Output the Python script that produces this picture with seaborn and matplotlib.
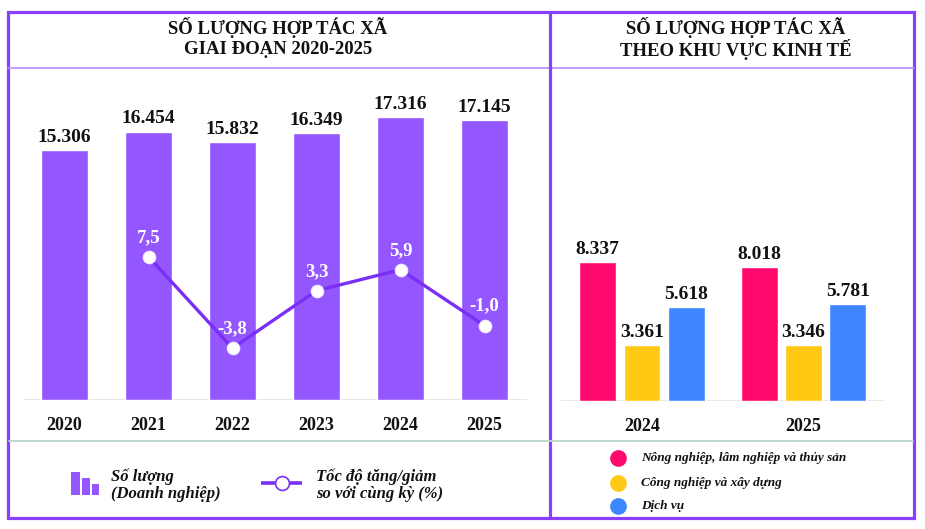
import matplotlib
matplotlib.use("Agg")
import matplotlib.pyplot as plt
from matplotlib.patches import Rectangle, Circle
from matplotlib.lines import Line2D
import seaborn as sns
import pandas as pd
import numpy as np

# ---------------- data ----------------
years = ["2020", "2021", "2022", "2023", "2024", "2025"]
counts = [15306, 16454, 15832, 16349, 17316, 17145]
growth_years = ["2021", "2022", "2023", "2024", "2025"]
growth = [7.5, -3.8, 3.3, 5.9, -1.0]

sector_years = ["2024", "2025"]
sectors = ["Nông nghiệp, lâm nghiệp và thủy sản", "Công nghiệp và xây dựng", "Dịch vụ"]
sector_2024 = [8337, 3361, 5618]
sector_2025 = [8018, 3346, 5781]

title_left = "SỐ LƯỢNG HỢP TÁC XÃ\nGIAI ĐOẠN 2020-2025"
title_right = "SỐ LƯỢNG HỢP TÁC XÃ\nTHEO KHU VỰC KINH TẾ"
legend_left = ["Số lượng\n(Doanh nghiệp)", "Tốc độ tăng/giảm\nso với cùng kỳ (%)"]

# ---------------- style ----------------
sns.set_style("white")
plt.rcParams["font.family"] = ["Liberation Serif", "DejaVu Serif"]

BAR = "#9457FF"
LINE = "#7A2FF7"
BORDER = "#8A3FFF"
SECTOR_COLORS = ["#FF0A6C", "#FFC914", "#3D86FF"]
W, H = 925, 529

fig = plt.figure(figsize=(W / 100, H / 100), dpi=100)


def px_axes(x0, y0, x1, y1, **kw):
    return fig.add_axes([x0 / W, 1 - y1 / H, (x1 - x0) / W, (y1 - y0) / H], **kw)


def fmt_int(v):
    return f"{v:,}".replace(",", ".")


def fmt_dec(v):
    return f"{v:.1f}".replace(".", ",")


# ---------------- frame / decorations ----------------
frame = fig.add_axes([0, 0, 1, 1], zorder=0)
frame.set_xlim(0, W)
frame.set_ylim(H, 0)
frame.axis("off")

frame.add_patch(Rectangle((7.5, 12), 906.5, 506, fill=False, ec=BORDER, lw=2.3))
frame.plot([7.5, 914], [67.5, 67.5], color="#B58EFF", lw=1.2)
frame.plot([549.5, 549.5], [12, 518], color=BORDER, lw=2.3)
frame.plot([8.5, 913], [440.5, 440.5], color="#B9D8CC", lw=1.3)

tl, tr = title_left.split("\n"), title_right.split("\n")
for x, lines in [(278, tl), (736, tr)]:
    for y, t in zip([27, 50], lines):
        frame.text(x, y, t, ha="center", va="center", fontsize=13.5,
                   fontweight="bold", color="#111111")

# left legend: bar icon
for x0, x1, ytop in [(71, 80, 472), (82, 90, 478), (92, 99, 484)]:
    frame.add_patch(Rectangle((x0, ytop), x1 - x0, 495 - ytop, color=BAR, lw=0))
l1, l2 = legend_left[0].split("\n"), legend_left[1].split("\n")
for y, t in zip([477, 494], l1):
    frame.text(111, y, t, ha="left", va="center", fontsize=12, fontweight="bold",
               fontstyle="italic", color="#111111")
frame.plot([261, 302], [483, 483], color=LINE, lw=2.6, solid_capstyle="butt")
frame.plot([282], [483], marker="o", ms=10, mfc="white", mec=LINE, mew=1.2)
for y, t in zip([477, 494], l2):
    frame.text(316, y, t, ha="left", va="center", fontsize=12, fontweight="bold",
               fontstyle="italic", color="#111111")

# right legend
for y, c, t in zip([458, 483, 506], SECTOR_COLORS, sectors):
    frame.plot([618], [y], marker="o", ms=11, mfc=c, mec=c)
    frame.text(641, y, t, ha="left", va="center", fontsize=9.5, fontweight="bold",
               fontstyle="italic", color="#111111")

# ---------------- left chart ----------------
axL = px_axes(22.5, 90, 526.5, 400, zorder=2)
axL.patch.set_alpha(0)
df_left = pd.DataFrame({"year": years, "count": counts})
sns.barplot(data=df_left, x="year", y="count", order=years, color=BAR,
            saturation=1, width=0.56, ax=axL)
axL.bar_label(axL.containers[0], labels=[fmt_int(v) for v in counts], padding=3,
              fontsize=14, fontweight="bold", color="#111111")
axL.axhline(0, color="#E8E8E8", lw=1.5, zorder=0)
axL.set_ylim(0, 19000)
axL.set_xlabel("")
axL.set_ylabel("")
axL.set_yticks([])
axL.tick_params(axis="x", length=0, pad=12)
for lab in axL.get_xticklabels():
    lab.set_fontsize(13)
    lab.set_fontweight("bold")
    lab.set_color("#111111")
sns.despine(ax=axL, left=True, bottom=True)

axL2 = axL.twinx()
pos = [years.index(y) for y in growth_years]
df_g = pd.DataFrame({"pos": pos, "growth": growth})
sns.lineplot(data=df_g, x="pos", y="growth", ax=axL2, color=LINE, lw=2.4,
             marker="o", markersize=9, markerfacecolor="white",
             markeredgecolor="#F2ECFF", markeredgewidth=0.8)
for p, g in zip(pos, growth):
    axL2.annotate(fmt_dec(g), (p, g), xytext=(0, 14), textcoords="offset points",
                  ha="center", va="center", color="white", fontsize=13.5,
                  fontweight="bold")
axL2.set_ylim(-10.2, 28.1)
axL2.set_yticks([])
axL2.set_xlabel("")
axL2.set_ylabel("")
for s in axL2.spines.values():
    s.set_visible(False)
axL.set_xlim(-0.5, 5.5)

# ---------------- right chart ----------------
axR = px_axes(561.25, 90, 884.25, 401, zorder=2)
axR.patch.set_alpha(0)
df_right = pd.DataFrame({
    "year": np.repeat(sector_years, len(sectors)),
    "sector": sectors * len(sector_years),
    "value": sector_2024 + sector_2025,
})
sns.barplot(data=df_right, x="year", y="value", hue="sector", order=sector_years,
            hue_order=sectors, palette=dict(zip(sectors, SECTOR_COLORS)),
            saturation=1, width=0.823, gap=0.165, legend=False, ax=axR)
for cont, vals in zip(axR.containers, zip(sector_2024, sector_2025)):
    axR.bar_label(cont, labels=[fmt_int(v) for v in vals], padding=3,
                  fontsize=14, fontweight="bold", color="#111111")
axR.axhline(0, color="#E8E8E8", lw=1.5, zorder=0)
axR.set_ylim(0, 18613)
axR.set_xlim(-0.5, 1.5)
axR.set_xlabel("")
axR.set_ylabel("")
axR.set_yticks([])
axR.tick_params(axis="x", length=0, pad=12)
for lab in axR.get_xticklabels():
    lab.set_fontsize(13)
    lab.set_fontweight("bold")
    lab.set_color("#111111")
sns.despine(ax=axR, left=True, bottom=True)

fig.savefig("out.png", dpi=100)
